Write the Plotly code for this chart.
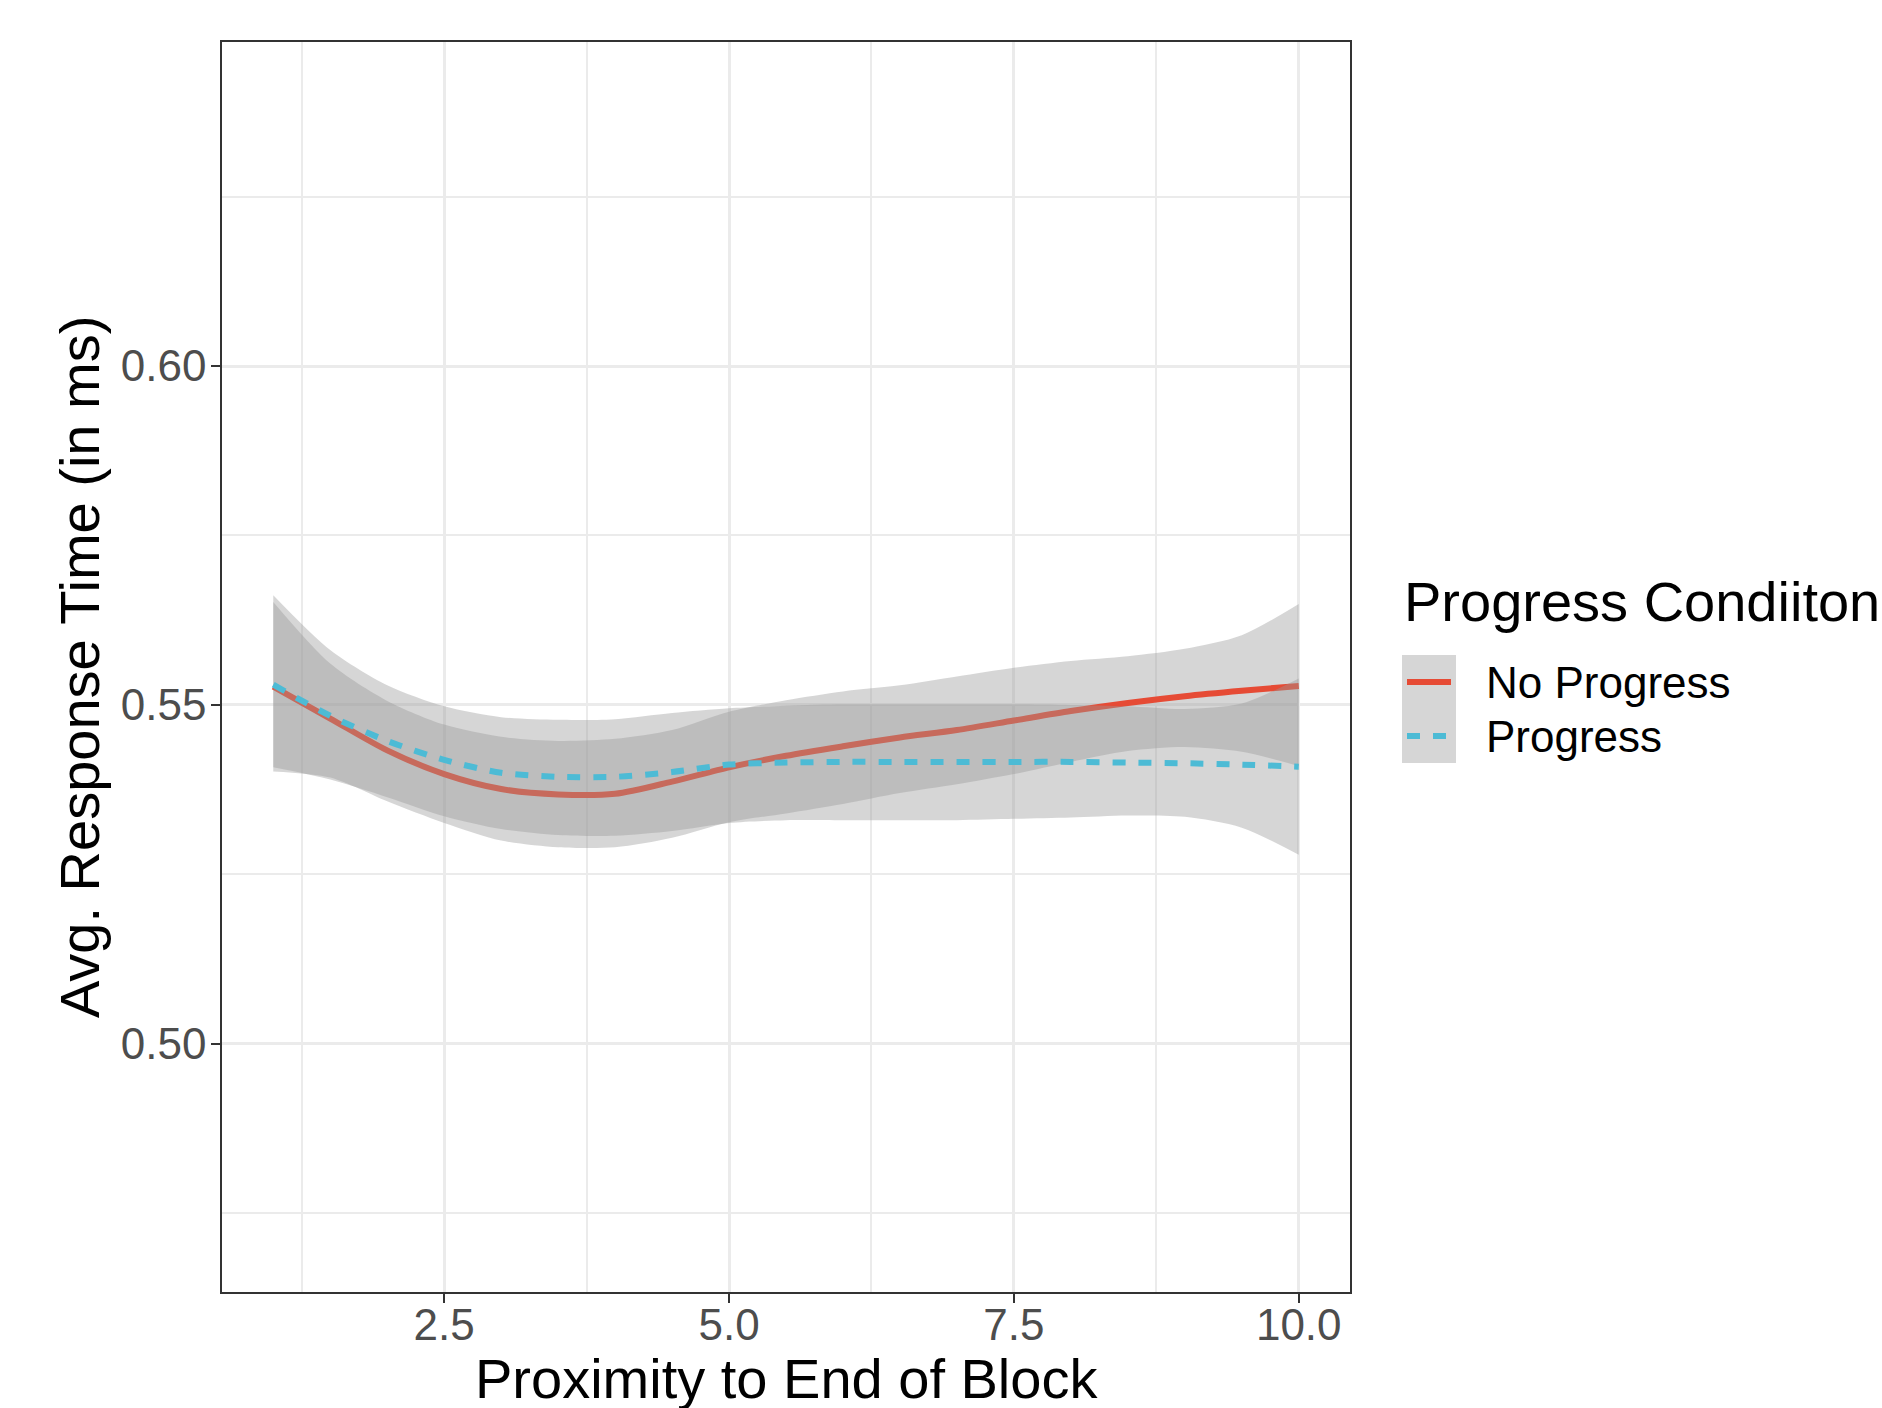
import plotly.graph_objects as go

# ---------------- data ----------------
proximity = [1.0, 1.5, 2.0, 2.5, 3.0, 3.5, 4.0, 4.5, 5.0, 5.5,
             6.0, 6.5, 7.0, 7.5, 8.0, 8.5, 9.0, 9.5, 10.0]

no_progress_fit = [0.5527, 0.5480, 0.5433, 0.5398, 0.5376, 0.5368, 0.5369, 0.5387, 0.5408, 0.5425,
                   0.5439, 0.5452, 0.5463, 0.5477, 0.5491, 0.5503, 0.5513, 0.5521, 0.5528]
no_progress_upper = [0.5652, 0.5561, 0.5506, 0.5471, 0.5453, 0.5447, 0.5450, 0.5463, 0.5490, 0.5507,
                     0.5520, 0.5529, 0.5542, 0.5555, 0.5565, 0.5572, 0.5583, 0.5603, 0.5649]
no_progress_lower = [0.5402, 0.5393, 0.5358, 0.5326, 0.5300, 0.5290, 0.5290, 0.5304, 0.5327, 0.5340,
                     0.5354, 0.5370, 0.5383, 0.5398, 0.5416, 0.5432, 0.5438, 0.5431, 0.5410]

progress_fit = [0.5530, 0.5484, 0.5447, 0.5419, 0.5400, 0.5394, 0.5394, 0.5401, 0.5412, 0.5415,
                0.5416, 0.5416, 0.5416, 0.5416, 0.5416, 0.5415, 0.5414, 0.5412, 0.5409]
progress_upper = [0.5662, 0.5581, 0.5529, 0.5498, 0.5482, 0.5478, 0.5479, 0.5488, 0.5495, 0.5499,
                  0.5501, 0.5501, 0.5501, 0.5501, 0.5500, 0.5498, 0.5494, 0.5502, 0.5539]
progress_lower = [0.5408, 0.5390, 0.5364, 0.5336, 0.5317, 0.5308, 0.5307, 0.5314, 0.5326, 0.5330,
                  0.5330, 0.5330, 0.5330, 0.5332, 0.5334, 0.5337, 0.5335, 0.5319, 0.5279]

legend_title = "Progress Condiiton"
group_labels = ["No Progress", "Progress"]
x_title = "Proximity to End of Block"
y_title = "Avg. Response Time (in ms)"

# ---------------- style ----------------
RED = "#E64B35"
BLUE = "#4DBBD5"
RIBBON = "rgba(153,153,153,0.4)"
FONT = "Liberation Sans, Arial, Helvetica, sans-serif"
W, H = 1882, 1408
L, R, T, B = 222, 532, 42, 116
PW, PH = W - L - R, H - T - B

smooth = dict(shape="spline", smoothing=0.8)
LINE_W = 6

fig = go.Figure()

groups = [
    (no_progress_fit, no_progress_upper, no_progress_lower, RED, "solid"),
    (progress_fit, progress_upper, progress_lower, BLUE, "13px,13px"),
]
for fit, up, lo, col, dash in groups:
    fig.add_trace(go.Scatter(x=proximity, y=up, mode="lines",
                             line=dict(width=0, **smooth), showlegend=False, hoverinfo="skip"))
    fig.add_trace(go.Scatter(x=proximity, y=lo, mode="lines", fill="tonexty",
                             fillcolor=RIBBON, line=dict(width=0, **smooth),
                             showlegend=False, hoverinfo="skip"))
    fig.add_trace(go.Scatter(x=proximity, y=fit, mode="lines",
                             line=dict(color=col, width=LINE_W, dash=dash, **smooth),
                             showlegend=False))

axis_common = dict(
    showline=True, mirror=True, linecolor="#333333", linewidth=1.5,
    ticks="outside", ticklen=9, tickwidth=1.5, tickcolor="#333333",
    tickfont=dict(family=FONT, size=44, color="#4D4D4D"),
    showgrid=True, gridcolor="#EBEBEB", gridwidth=2.6,
    zeroline=False,
)

fig.update_xaxes(
    range=[0.55, 10.45], tick0=0, dtick=2.5, tickformat=".1f",
    minor=dict(tick0=0, dtick=1.25, showgrid=True, gridcolor="#EBEBEB", gridwidth=1.6, ticks=""),
    ticklabelstandoff=-16,
    **axis_common,
)
fig.update_yaxes(
    range=[0.4634, 0.6478], tick0=0, dtick=0.05, tickformat=".2f",
    minor=dict(tick0=0, dtick=0.025, showgrid=True, gridcolor="#EBEBEB", gridwidth=1.6, ticks=""),
    ticklabelstandoff=-4,
    **axis_common,
)


def px_to_paper_x(px):
    return (px - L) / PW


def px_to_paper_y(py):
    return (H - B - py) / PH


shapes = []
annotations = []

# axis titles
annotations.append(dict(text=x_title, xref="paper", yref="paper",
                        x=0.5, y=px_to_paper_y(1378), xanchor="center", yanchor="middle",
                        showarrow=False, font=dict(family=FONT, size=56, color="black")))
annotations.append(dict(text=y_title, xref="paper", yref="paper", textangle=-90,
                        x=px_to_paper_x(79), y=0.5, xanchor="center", yanchor="middle",
                        showarrow=False, font=dict(family=FONT, size=56, color="black")))

# ---------------- manual legend (ggplot style keys) ----------------
key_x0, key_x1 = 1402, 1456
key_rows = [(655, 709), (709, 763)]
for (y0, y1), (_, _, _, col, dash), label in zip(key_rows, groups, group_labels):
    shapes.append(dict(type="rect", xref="paper", yref="paper",
                       x0=px_to_paper_x(key_x0), x1=px_to_paper_x(key_x1),
                       y0=px_to_paper_y(y1), y1=px_to_paper_y(y0),
                       fillcolor="#D6D6D6", line=dict(width=0), layer="above"))
    ym = (y0 + y1) / 2
    shapes.append(dict(type="line", xref="paper", yref="paper",
                       x0=px_to_paper_x(1407), x1=px_to_paper_x(1451),
                       y0=px_to_paper_y(ym), y1=px_to_paper_y(ym),
                       line=dict(color=col, width=LINE_W, dash=dash), layer="above"))
    annotations.append(dict(text=label, xref="paper", yref="paper",
                            x=px_to_paper_x(1484), y=px_to_paper_y(ym),
                            xanchor="left", yanchor="middle", showarrow=False,
                            font=dict(family=FONT, size=44, color="black")))

annotations.append(dict(text=legend_title, xref="paper", yref="paper",
                        x=px_to_paper_x(1402), y=px_to_paper_y(601),
                        xanchor="left", yanchor="middle", showarrow=False,
                        font=dict(family=FONT, size=56, color="black")))

fig.update_layout(
    width=W, height=H,
    margin=dict(l=L, r=R, t=T, b=B, autoexpand=False),
    paper_bgcolor="white", plot_bgcolor="white",
    showlegend=False,
    shapes=shapes, annotations=annotations,
    font=dict(family=FONT),
)

fig.write_html(
    "out.html",
    config={"displayModeBar": False},
    post_script="document.body.style.margin='0';document.body.style.overflow='hidden';",
)
